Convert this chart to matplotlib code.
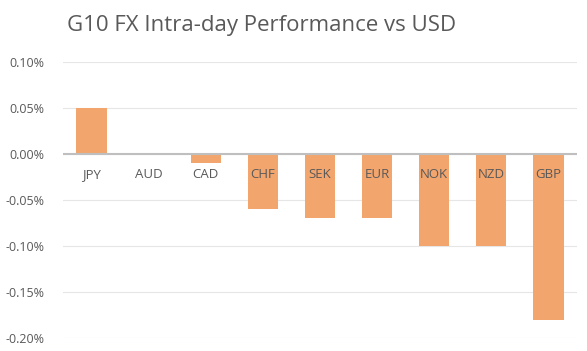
import matplotlib.pyplot as plt
from matplotlib.ticker import FuncFormatter

currencies = ["JPY", "AUD", "CAD", "CHF", "SEK", "EUR", "NOK", "NZD", "GBP"]
change_pct = [0.05, 0.0, -0.01, -0.06, -0.07, -0.07, -0.10, -0.10, -0.18]
y_ticks = [0.10, 0.05, 0.0, -0.05, -0.10, -0.15, -0.20]

plt.rcParams['font.family'] = ['Open Sans', 'DejaVu Sans']

fig = plt.figure(figsize=(5.87, 3.51), dpi=100)
ax = fig.add_axes([0.107, 0.037, 0.876, 0.786])

x = list(range(len(currencies)))
ax.bar(x, change_pct, width=0.53, color="#F2A66E", zorder=2)

ax.set_xlim(-0.5, len(currencies) - 0.5)
ax.set_ylim(-0.20, 0.10)
ax.set_yticks(y_ticks)
ax.yaxis.set_major_formatter(FuncFormatter(lambda v, p: f"{v:.2f}%"))
ax.tick_params(axis='y', length=0, pad=13, labelsize=9, labelcolor="#595959")
ax.set_xticks([])
ax.grid(axis='y', color="#E6E6E6", linewidth=0.8, zorder=0)
ax.axhline(0, color="#BFBFBF", linewidth=1.5, zorder=3)
for s in ax.spines.values():
    s.set_visible(False)

for i, c in enumerate(currencies):
    ax.annotate(c, (i, 0), xytext=(0, -14.5), textcoords='offset points',
                ha='center', va='center', fontsize=9.5, color="#595959", zorder=4)

fig.text(0.446, 0.928, "G10 FX Intra-day Performance vs USD", ha='center', va='center',
         fontsize=16, color="#595959")

fig.savefig("out.png", dpi=100)
